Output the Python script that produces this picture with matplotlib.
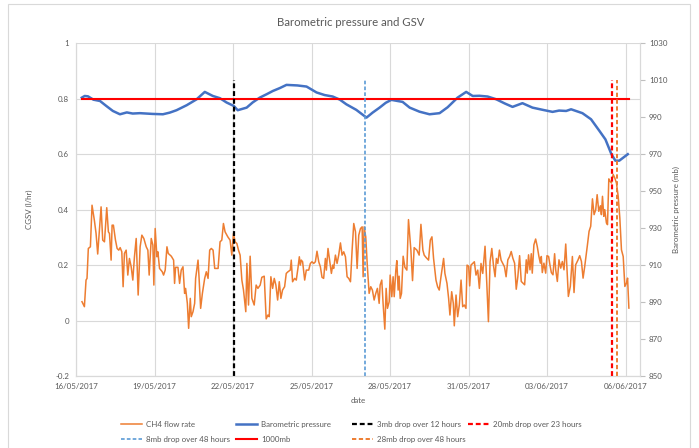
import numpy as np
import matplotlib
matplotlib.use('Agg')
import matplotlib.pyplot as plt
import matplotlib.dates as mdates
from matplotlib.lines import Line2D
from matplotlib.patches import Rectangle

plt.rcParams['font.family'] = ['Lato', 'DejaVu Sans']

start = np.datetime64('2017-05-16T00:00')

# CH4 flow rate, hours after 16/05/2017 00:00
ch4_hours = [5.5, 7.7, 9.2, 10.1, 11.3, 13.2, 14.7, 16.9, 18.4, 19.9, 23.0, 24.5, 26.1, 28.2, 29.7, 30.7,
             32.2, 33.1, 34.3, 36.2, 37.7, 39.2, 40.5, 42.0, 43.2, 44.4, 46.0, 47.5, 49.0, 50.6, 52.1, 53.6,
             55.2, 57.0, 58.8, 60.4, 62.2, 64.4, 65.9, 67.1, 69.0, 70.5, 71.4, 72.6, 74.2, 75.1, 76.6, 79.1,
             80.3, 81.8, 83.4, 84.6, 87.4, 89.5, 90.4, 91.3, 93.5, 95.0, 96.5, 98.1, 99.6, 100.5, 102.1, 103.3,
             104.8, 105.7, 107.3, 108.8, 109.7, 111.9, 112.8, 114.3, 115.9, 118.0, 119.5, 121.1, 122.6, 124.1,
             125.7, 127.2, 130.3,
             132.1, 133.7, 135.2, 136.7, 139.2, 141.3, 142.9, 144.4, 145.9, 147.5, 149.0, 150.5, 152.1, 153.6,
             155.7, 156.7, 158.2, 159.7, 161.3, 163.4, 165.2, 166.8, 168.9, 170.4, 172.6, 174.4, 176.0, 177.2,
             178.7, 180.3, 181.8, 183.3, 184.9, 186.4, 187.9, 189.4, 191.3, 192.8, 194.4, 196.5, 197.4, 198.6,
             200.5, 202.0, 203.5, 204.8, 205.7, 206.6, 207.8, 209.7, 211.2, 213.4, 214.9, 216.4, 218.0, 219.5,
             221.0, 222.6, 224.1, 225.6, 227.1, 228.7, 229.6, 231.1, 232.7, 234.2, 235.4, 236.3, 237.9, 239.4,
             240.9, 242.5, 244.0, 245.5, 247.1, 248.6, 250.1, 251.7, 253.2, 254.7, 256.3, 257.8, 259.3, 260.9,
             262.4, 263.3,
             264.2, 265.7, 267.2, 268.8, 270.3, 271.8, 273.4, 274.9, 276.4, 278.0, 278.9, 280.4, 281.6, 283.2,
             284.4, 285.6, 287.2, 288.1, 289.6, 290.8, 291.8, 293.3, 294.2, 295.4, 296.3, 297.3, 298.5, 300.0,
             301.6, 303.4, 304.9, 307.1, 308.6, 310.1, 312.6, 314.7, 316.3, 318.1, 319.3, 320.9, 323.3, 324.9,
             326.4, 327.9, 330.1, 331.6, 333.1, 334.7, 337.1, 338.3, 340.2, 341.7, 342.9, 344.5, 346.0, 346.9,
             348.5, 350.0, 351.5, 353.1, 354.6, 356.1, 357.6, 358.6, 360.1, 361.0, 362.2, 363.8, 365.3, 366.8,
             368.4, 369.9, 371.4, 373.0, 375.1, 376.7, 378.2, 379.7, 381.3, 382.8, 384.3, 385.5, 386.8, 388.3,
             389.8, 392.9, 394.4,
             396.0, 397.6, 399.1, 400.6, 402.2, 403.7, 405.2, 406.8, 408.3, 409.8, 411.4, 412.9, 413.8, 415.0,
             416.3, 417.5, 418.4, 419.9, 421.5, 423.0, 424.5, 425.8, 426.7, 427.6, 429.1, 430.7, 431.9, 433.4,
             434.6, 435.9, 437.4, 438.9, 439.9, 441.4, 442.9, 444.5, 446.0, 447.5, 449.1, 450.6, 451.5, 453.3,
             455.2, 456.7, 458.2, 460.4, 461.9, 463.5, 465.0, 466.5, 468.1, 469.0, 470.5, 472.0, 473.6, 475.1,
             476.6, 477.9, 479.4, 480.9, 481.8, 482.8, 484.0, 484.9, 486.4, 487.4, 488.6, 489.8, 491.0, 492.6,
             494.1, 495.6, 497.2, 498.7, 500.2, 501.8, 503.3, 504.8, 505.8, 507.0]
ch4_flow = [0.068, 0.05, 0.146, 0.152, 0.26, 0.266, 0.416, 0.36, 0.314, 0.24, 0.41, 0.29, 0.284, 0.407, 0.32, 0.314,
            0.218, 0.344, 0.344, 0.29, 0.26, 0.254, 0.263, 0.248, 0.122, 0.242, 0.254, 0.164, 0.224, 0.194, 0.146, 0.23,
            0.296, 0.092, 0.266, 0.308, 0.296, 0.266, 0.254, 0.164, 0.296, 0.272, 0.128, 0.332, 0.23, 0.248, 0.188, 0.176,
            0.164, 0.182, 0.266, 0.242, 0.232, 0.218, 0.134, 0.192, 0.192, 0.134, 0.182, 0.194, 0.098, 0.116, 0.062, -0.028,
            0.08, 0.014, 0.032, 0.062, 0.152, 0.218, 0.158, 0.044, 0.098, 0.152, 0.176, 0.152, 0.254, 0.26,
            0.254, 0.188, 0.188,
            0.284, 0.29, 0.35, 0.32, 0.302, 0.29, 0.236, 0.314, 0.284, 0.278, 0.254, 0.236, 0.146, 0.11,
            0.032, 0.206, 0.056, 0.232, 0.08, 0.056, 0.128, 0.116, 0.128, 0.156, 0.16, 0.006, 0.02, 0.014,
            0.158, 0.116, 0.152, 0.128, 0.074, 0.14, 0.08, 0.11, 0.122, 0.17, 0.176, 0.182, 0.218, 0.14,
            0.152, 0.146, 0.188, 0.23, 0.2, 0.218, 0.212, 0.146, 0.182, 0.182, 0.206, 0.212, 0.206, 0.212,
            0.25, 0.212, 0.194, 0.156, 0.152, 0.224, 0.182, 0.26, 0.212, 0.17, 0.2, 0.188, 0.236, 0.206,
            0.236, 0.28, 0.236, 0.248, 0.23, 0.158, 0.152, 0.14, 0.254, 0.35, 0.32, 0.188, 0.308, 0.332,
            0.338, 0.158,
            0.338, 0.302, 0.194, 0.098, 0.122, 0.11, 0.074, 0.098, 0.116, 0.062, 0.128, 0.146, 0.062, -0.031,
            0.116, 0.044, 0.068, 0.164, 0.086, 0.158, 0.086, 0.182, 0.216, 0.11, 0.16, 0.08, 0.098, 0.232,
            0.192, 0.182, 0.364, 0.254, 0.144, 0.263, 0.254, 0.236, 0.347, 0.254, 0.236, 0.228, 0.218, 0.29,
            0.302, 0.224, 0.146, 0.122, 0.11, 0.158, 0.224, 0.17, 0.134, 0.08, 0.02, 0.104, 0.062, -0.019,
            0.092, 0.014, 0.056, 0.146, 0.05, 0.056, 0.044, 0.2, 0.196, 0.125, 0.2, 0.206, 0.212, 0.164,
            0.182, 0.116, 0.206, 0.17, 0.268, 0.134, -0.004, 0.212, 0.26, 0.2, 0.158, 0.224, 0.206, 0.254,
            0.218, 0.194, 0.158,
            0.219, 0.231, 0.249, 0.225, 0.207, 0.113, 0.159, 0.234, 0.141, 0.135, 0.129, 0.219, 0.171, 0.237,
            0.183, 0.241, 0.171, 0.273, 0.294, 0.267, 0.231, 0.207, 0.231, 0.173, 0.207, 0.171, 0.234, 0.231,
            0.201, 0.173, 0.165, 0.241, 0.183, 0.141, 0.219, 0.189, 0.213, 0.183, 0.276, 0.159, 0.087, 0.123,
            0.231, 0.101, 0.201, 0.219, 0.234, 0.213, 0.153, 0.195, 0.243, 0.273, 0.322, 0.34, 0.439, 0.382,
            0.4, 0.454, 0.394, 0.414, 0.382, 0.448, 0.376, 0.4, 0.352, 0.346, 0.511, 0.502, 0.496, 0.527,
            0.514, 0.496, 0.448, 0.37, 0.255, 0.231, 0.123, 0.135, 0.153, 0.045]

# barometric pressure (mb)
baro_hours = [5.3, 8, 11, 16, 22, 28, 33.8, 40.3, 46.6, 52, 58.6, 70, 79.7, 86, 92.2, 101.5, 110.6, 118.1,
              125.5, 132, 138, 144.7, 148.3, 156.5, 162, 168.5, 175, 180.5, 187, 193, 203, 211.4, 220.6, 228,
              235.4, 242, 247.9, 257, 266.4, 272, 278.4, 284, 289.2, 299.5, 306, 315, 324.2, 333.4, 340.8,
              349.9, 357.8, 363.8, 370, 377.5, 385.4, 393, 400.3, 409.4, 418.6, 428, 437, 443, 449.5, 454,
              464.4, 472.3, 480, 485.5, 491, 494.6, 498.2, 506]
baro_mb = [1000.6, 1001.5, 1001.3, 999.5, 998.8, 996, 993.4, 991.6, 992.6, 992, 992.2, 991.8, 991.6, 992.5,
           993.8, 996.5, 999.7, 1003.7, 1001.5, 1000.3, 998, 996.1, 993.8, 995.2, 998, 1000.6, 1002.5, 1004.2,
           1005.8, 1007.5, 1007.2, 1006.6, 1003.4, 1002, 1001.2, 999.5, 997, 994, 989.8, 992.5, 995.2, 997.8,
           999.4, 998.3, 995.2, 993, 991.6, 992.2, 995.4, 1000.6, 1003.7, 1001.5, 1001.6, 1001.2, 999.7, 997.5,
           995.6, 997.6, 995.2, 994, 992.9, 993.6, 993.4, 994.3, 992.2, 988.9, 982.6, 978, 970, 966.5, 966.5,
           970]

ref_hours = [5.5, 507.0]
ref_mb = [1000, 1000]

# vertical markers: label, hour, colour
events = ['3mb drop over 12 hours', '8mb drop over 48 hours', '20mb drop over 23 hours', '28mb drop over 48 hours']
event_hours = [145, 265, 491.3, 496.1]
event_colors = ['#000000', '#5B9BD5', '#FF0000', '#ED7D31']
event_widths = [1.6, 1.2, 1.6, 1.4]
marker_range = [850, 1010]

tick_days = [0, 3, 6, 9, 12, 15, 18, 21]


def to_time(hours):
    mins = np.round(np.array(hours) * 60).astype(int)
    return start + mins.astype('timedelta64[m]')


grey = '#595959'
fig = plt.figure(figsize=(6.99, 4.48), dpi=100)
fig.patches.append(Rectangle((8 / 699, -0.01), 682 / 699, 1.0, transform=fig.transFigure,
                             fill=False, edgecolor='#D9D9D9', lw=0.8))
ax = fig.add_axes([76 / 699, 1 - 376 / 448, 564 / 699, 332.7 / 448])
ax2 = ax.twinx()

ax.plot(to_time(ch4_hours), ch4_flow, color='#ED7D31', lw=1.1)
ax2.plot(to_time(baro_hours), baro_mb, color='#4472C4', lw=1.8)
ax2.plot(to_time(ref_hours), ref_mb, color='#FF0000', lw=1.5)
for name, h, c, w in zip(events, event_hours, event_colors, event_widths):
    t = to_time([h, h])
    ax2.plot(t, marker_range, color=c, lw=w, dashes=(2.2, 1.3))

ax.set_ylim(-0.2, 1)
ax.set_yticks(np.arange(-0.2, 1.01, 0.2))
ax.yaxis.set_major_formatter(plt.FuncFormatter(lambda v, p: '%g' % round(v, 1)))
ax2.set_ylim(850, 1030)
ax2.set_yticks(range(850, 1031, 20))

ax.set_xlim(start, start + np.timedelta64(int(21.55 * 24 * 60), 'm'))
ax.set_xticks(to_time([d * 24 for d in tick_days]))
ax.xaxis.set_major_formatter(mdates.DateFormatter('%d/%m/%Y'))

ax.grid(True, color='#D9D9D9', lw=0.8)
ax.set_axisbelow(True)
for a in (ax, ax2):
    a.spines['top'].set_visible(False)
    for s in ('left', 'right', 'bottom'):
        a.spines[s].set_color('#D9D9D9')
        a.spines[s].set_linewidth(0.8)
ax.tick_params(axis='both', length=0, labelsize=5.7, labelcolor=grey, pad=5)
ax2.tick_params(axis='y', length=3.5, color='#BFBFBF', width=0.8, labelsize=5.7, labelcolor=grey, pad=3)

ax.set_ylabel('CGSV (l/hr)', fontsize=5.7, color=grey, labelpad=16)
ax2.set_ylabel('Barometric pressure (mb)', fontsize=5.7, color=grey, labelpad=4)
ax.set_xlabel('date', fontsize=5.7, color=grey, labelpad=5)
fig.text(0.502, 1 - 22 / 448, 'Barometric pressure and GSV', ha='center', va='center', fontsize=8.2, color=grey)

# legend, four equal-width columns like the original
h_ch4 = Line2D([], [], color='#ED7D31', lw=1.1)
h_baro = Line2D([], [], color='#4472C4', lw=1.8)
h_ref = Line2D([], [], color='#FF0000', lw=1.5)
h_ev = [Line2D([], [], color=c, lw=w, dashes=(2.2, 1.3)) for c, w in zip(event_colors, event_widths)]
columns = [([h_ch4, h_ev[1]], ['CH4 flow rate', events[1]]),
           ([h_baro, h_ref], ['Barometric pressure', '1000mb']),
           ([h_ev[0], h_ev[3]], [events[0], events[3]]),
           ([h_ev[2]], [events[2]])]
col_x = [121, 236, 352, 468]
for (hs, ls), x in zip(columns, col_x):
    fig.legend(hs, ls, loc='upper left', bbox_to_anchor=(x / 699, 1 - 421 / 448), frameon=False,
               fontsize=5.7, labelcolor=grey, borderpad=0, borderaxespad=0, handlelength=2.7,
               handletextpad=0.5, labelspacing=1.0)

fig.savefig('out.png', dpi=100)
